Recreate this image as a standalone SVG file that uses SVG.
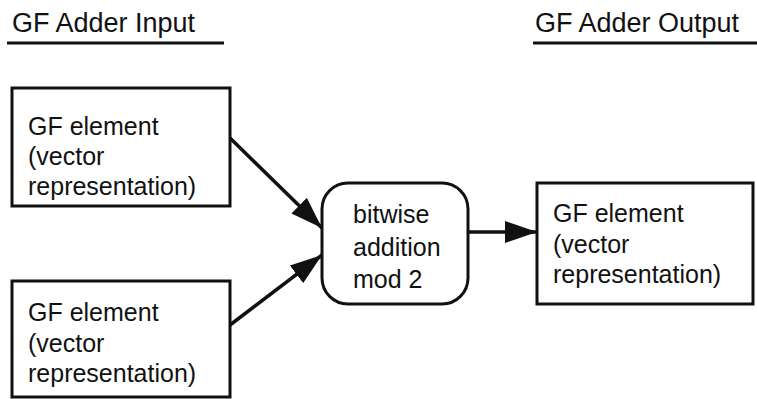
<svg xmlns="http://www.w3.org/2000/svg" width="757" height="399" viewBox="0 0 757 399">
  <style>
    .t { font-family: "Liberation Sans", Arial, sans-serif; font-size: 25px; fill: #111; }
    .h { font-size: 27px; }
    .box { fill: #fff; stroke: #111; stroke-width: 3; }
    .rule { stroke: #111; stroke-width: 3; }
    .edge { stroke: #111; stroke-width: 3.5; fill: none; marker-end: url(#arrow); }
  </style>
  <defs>
    <marker id="arrow" viewBox="0 0 32 22" refX="32" refY="11" markerWidth="32" markerHeight="22" markerUnits="userSpaceOnUse" orient="auto">
      <path d="M0,0 L32,11 L0,22 Z" fill="#111"/>
    </marker>
  </defs>
  <rect width="757" height="399" fill="#fff"/>

  <g id="title-input">
    <text class="t h" x="12" y="32">GF Adder Input</text>
    <line class="rule" x1="7" y1="43" x2="224" y2="43"/>
  </g>
  <g id="title-output">
    <text class="t h" x="535" y="32">GF Adder Output</text>
    <line class="rule" x1="533" y1="43" x2="757" y2="43"/>
  </g>

  <g id="input-a">
    <rect class="box" x="12" y="88" width="218" height="118"/>
    <text class="t" x="28" y="135">GF element</text>
    <text class="t" x="28" y="165">(vector</text>
    <text class="t" x="28" y="195">representation)</text>
  </g>
  <g id="input-b">
    <rect class="box" x="12" y="281" width="218" height="116"/>
    <text class="t" x="28" y="321">GF element</text>
    <text class="t" x="28" y="352">(vector</text>
    <text class="t" x="28" y="382">representation)</text>
  </g>
  <g id="adder">
    <rect class="box" x="322" y="183" width="146" height="121" rx="26" ry="26"/>
    <text class="t" x="353" y="223">bitwise</text>
    <text class="t" x="353" y="256">addition</text>
    <text class="t" x="353" y="288">mod 2</text>
  </g>
  <g id="output">
    <rect class="box" x="537" y="183" width="216" height="121"/>
    <text class="t" x="553" y="222">GF element</text>
    <text class="t" x="553" y="253">(vector</text>
    <text class="t" x="553" y="283">representation)</text>
  </g>

  <g id="connectors">
    <line class="edge" x1="230" y1="138" x2="322" y2="228"/>
    <line class="edge" x1="230" y1="325" x2="322" y2="255"/>
    <line class="edge" x1="468" y1="232" x2="537" y2="232"/>
  </g>
</svg>
